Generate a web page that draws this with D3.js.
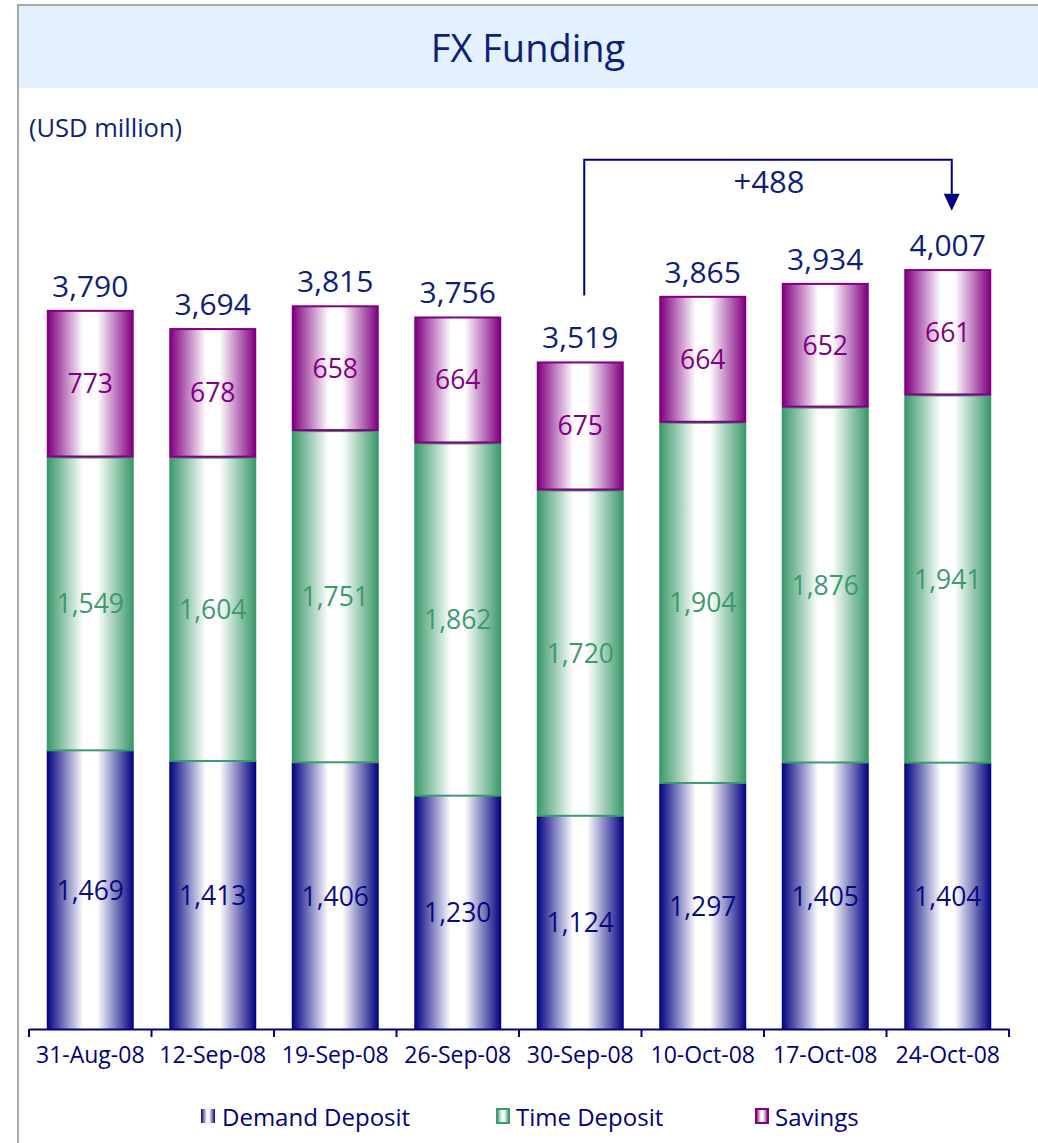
<!DOCTYPE html>
<html>
<head>
<meta charset="utf-8">
<script src="https://cdn.jsdelivr.net/npm/d3@7"></script>
<style>
  html, body { margin: 0; padding: 0; background: #fff; }
  svg { display: block; }
  text { font-family: "Open Sans", "Noto Sans", sans-serif; }
</style>
</head>
<body>
<svg id="chart" width="1038" height="1143"></svg>
<script>
// Week-end reporting dates
const dates = ["31-Aug-08", "12-Sep-08", "19-Sep-08", "26-Sep-08", "30-Sep-08", "10-Oct-08", "17-Oct-08", "24-Oct-08"];
// Funding components (USD million)
const demandDeposit = [1469, 1413, 1406, 1230, 1124, 1297, 1405, 1404];
const timeDeposit   = [1549, 1604, 1751, 1862, 1720, 1904, 1876, 1941];
const savings       = [773, 678, 658, 664, 675, 664, 652, 661];
const totals        = [3790, 3694, 3815, 3756, 3519, 3865, 3934, 4007];
const seriesNames   = ["Demand Deposit", "Time Deposit", "Savings"];
// Change highlighted between two dates
const changeFrom = "30-Sep-08", changeTo = "24-Oct-08", changeLabel = "+488";

const colors = { "Demand Deposit": "#000080", "Time Deposit": "#3d9a6c", "Savings": "#800080" };
const labelColors = { "Demand Deposit": "#0a0a80", "Time Deposit": "#3d9a6c", "Savings": "#800080" };
const navy = "#0d1f78";

const svg = d3.select("#chart");
const fmt = d3.format(",");

// Frame and title band
svg.append("rect").attr("x", 19).attr("y", 6).attr("width", 1019).attr("height", 82).attr("fill", "#e3f0fd");
svg.append("line").attr("x1", 18).attr("x2", 18).attr("y1", 5).attr("y2", 1143).attr("stroke", "#a8a8a8").attr("stroke-width", 2);
svg.append("line").attr("x1", 17).attr("x2", 1038).attr("y1", 5).attr("y2", 5).attr("stroke", "#a8a8a8").attr("stroke-width", 2);
svg.append("text").attr("x", 528).attr("y", 62).attr("text-anchor", "middle")
  .attr("fill", navy).attr("font-size", 38).text("FX Funding");
svg.append("text").attr("x", 29).attr("y", 137).attr("fill", navy).attr("font-size", 25.5).text("(USD million)");

// Gradients: dark at the edges, white in the middle (cylinder look)
const defs = svg.append("defs");
seriesNames.forEach((s, i) => {
  const g = defs.append("linearGradient").attr("id", "grad" + i).attr("x1", "0%").attr("x2", "100%").attr("y1", "0%").attr("y2", "0%");
  [[0, 1], [0.42, 0], [0.58, 0], [1, 1]].forEach(([o, a]) => {
    g.append("stop").attr("offset", o).attr("stop-color", d3.interpolateRgb("#ffffff", colors[s])(a));
  });
});

// Scales
const x = d3.scaleBand().domain(dates).range([29, 1009]).paddingInner(0.29).paddingOuter(0.145);
const y = d3.scaleLinear().domain([0, 4000]).range([1029, 270.2]);

const rows = dates.map((d, i) => ({ date: d, "Demand Deposit": demandDeposit[i], "Time Deposit": timeDeposit[i], "Savings": savings[i], total: totals[i] }));
const stacked = d3.stack().keys(seriesNames)(rows);

// Bars
stacked.forEach((layer, li) => {
  const s = layer.key;
  const g = svg.append("g");
  g.selectAll("rect").data(layer).join("rect")
    .attr("x", d => x(d.data.date) + (li === 0 ? 0 : 1))
    .attr("width", x.bandwidth() - (li === 0 ? 0 : 2))
    .attr("y", d => y(d[1]) + (li === 0 ? 0 : 1))
    .attr("height", d => y(d[0]) - y(d[1]) - (li === 0 ? 0 : 1))
    .attr("fill", `url(#grad${li})`)
    .attr("stroke", li === 0 ? "none" : colors[s])
    .attr("stroke-width", 2);
  g.selectAll("text").data(layer).join("text")
    .attr("x", d => x(d.data.date) + x.bandwidth() / 2)
    .attr("y", d => (y(d[0]) + y(d[1])) / 2 + 10)
    .attr("text-anchor", "middle").attr("font-size", 26.5)
    .attr("fill", labelColors[s])
    .text(d => fmt(d.data[s]));
});

// Totals above the bars
svg.append("g").selectAll("text").data(rows).join("text")
  .attr("x", d => x(d.date) + x.bandwidth() / 2)
  .attr("y", d => y(d.total) - 13)
  .attr("text-anchor", "middle").attr("font-size", 30)
  .attr("fill", navy).text(d => fmt(d.total));

// Category axis with ticks between the bars
const axis = svg.append("g").attr("transform", "translate(0,1029)")
  .call(d3.axisBottom(x).tickSize(0).tickPadding(18));
axis.select(".domain").attr("stroke", "#000080").attr("stroke-width", 2);
axis.selectAll(".tick text").attr("fill", "#000080").attr("font-size", 23)
  .attr("font-family", "'Open Sans', sans-serif");
const step = x.step();
const bounds = d3.range(dates.length + 1).map(i => x(dates[0]) - step * 0.145 + i * step);
axis.selectAll(".sep").data(bounds).join("line").attr("class", "sep")
  .attr("x1", d => d).attr("x2", d => d).attr("y1", 0).attr("y2", 8)
  .attr("stroke", "#000080").attr("stroke-width", 2);

// Change bracket with arrow
const iFrom = dates.indexOf(changeFrom), iTo = dates.indexOf(changeTo);
const xa = x(changeFrom) + x.bandwidth() / 2 + 4;
const xb = x(changeTo) + x.bandwidth() / 2 + 4;
const yTop = y(totals[iTo]) - 109;
const yStart = y(totals[iFrom]) - 66;
const yTip = y(totals[iTo]) - 58;
svg.append("path")
  .attr("d", `M${xa},${yStart} V${yTop} H${xb} V${yTip - 14}`)
  .attr("fill", "none").attr("stroke", "#000080").attr("stroke-width", 2);
svg.append("path")
  .attr("d", `M${xb - 8},${yTip - 17} L${xb + 8},${yTip - 17} L${xb},${yTip} Z`)
  .attr("fill", "#000080");
svg.append("text").attr("x", (xa + xb) / 2 + 1).attr("y", yTop + 33)
  .attr("text-anchor", "middle").attr("font-size", 31).attr("fill", navy).text(changeLabel);

// Legend
const legendX = [200, 496, 755];
const leg = svg.append("g").attr("transform", "translate(0,1117)");
seriesNames.forEach((s, i) => {
  const g = leg.append("g").attr("transform", `translate(${legendX[i]},0)`);
  g.append("rect").attr("x", 1).attr("y", -8).attr("width", i === 0 ? 14 : 12).attr("height", 14)
    .attr("fill", `url(#grad${i})`)
    .attr("stroke", i === 0 ? "none" : colors[s]).attr("stroke-width", 2);
  g.append("text").attr("x", i === 0 ? 22 : 20).attr("y", 9).attr("font-size", 24)
    .attr("fill", "#000080").text(s);
});
</script>
</body>
</html>
